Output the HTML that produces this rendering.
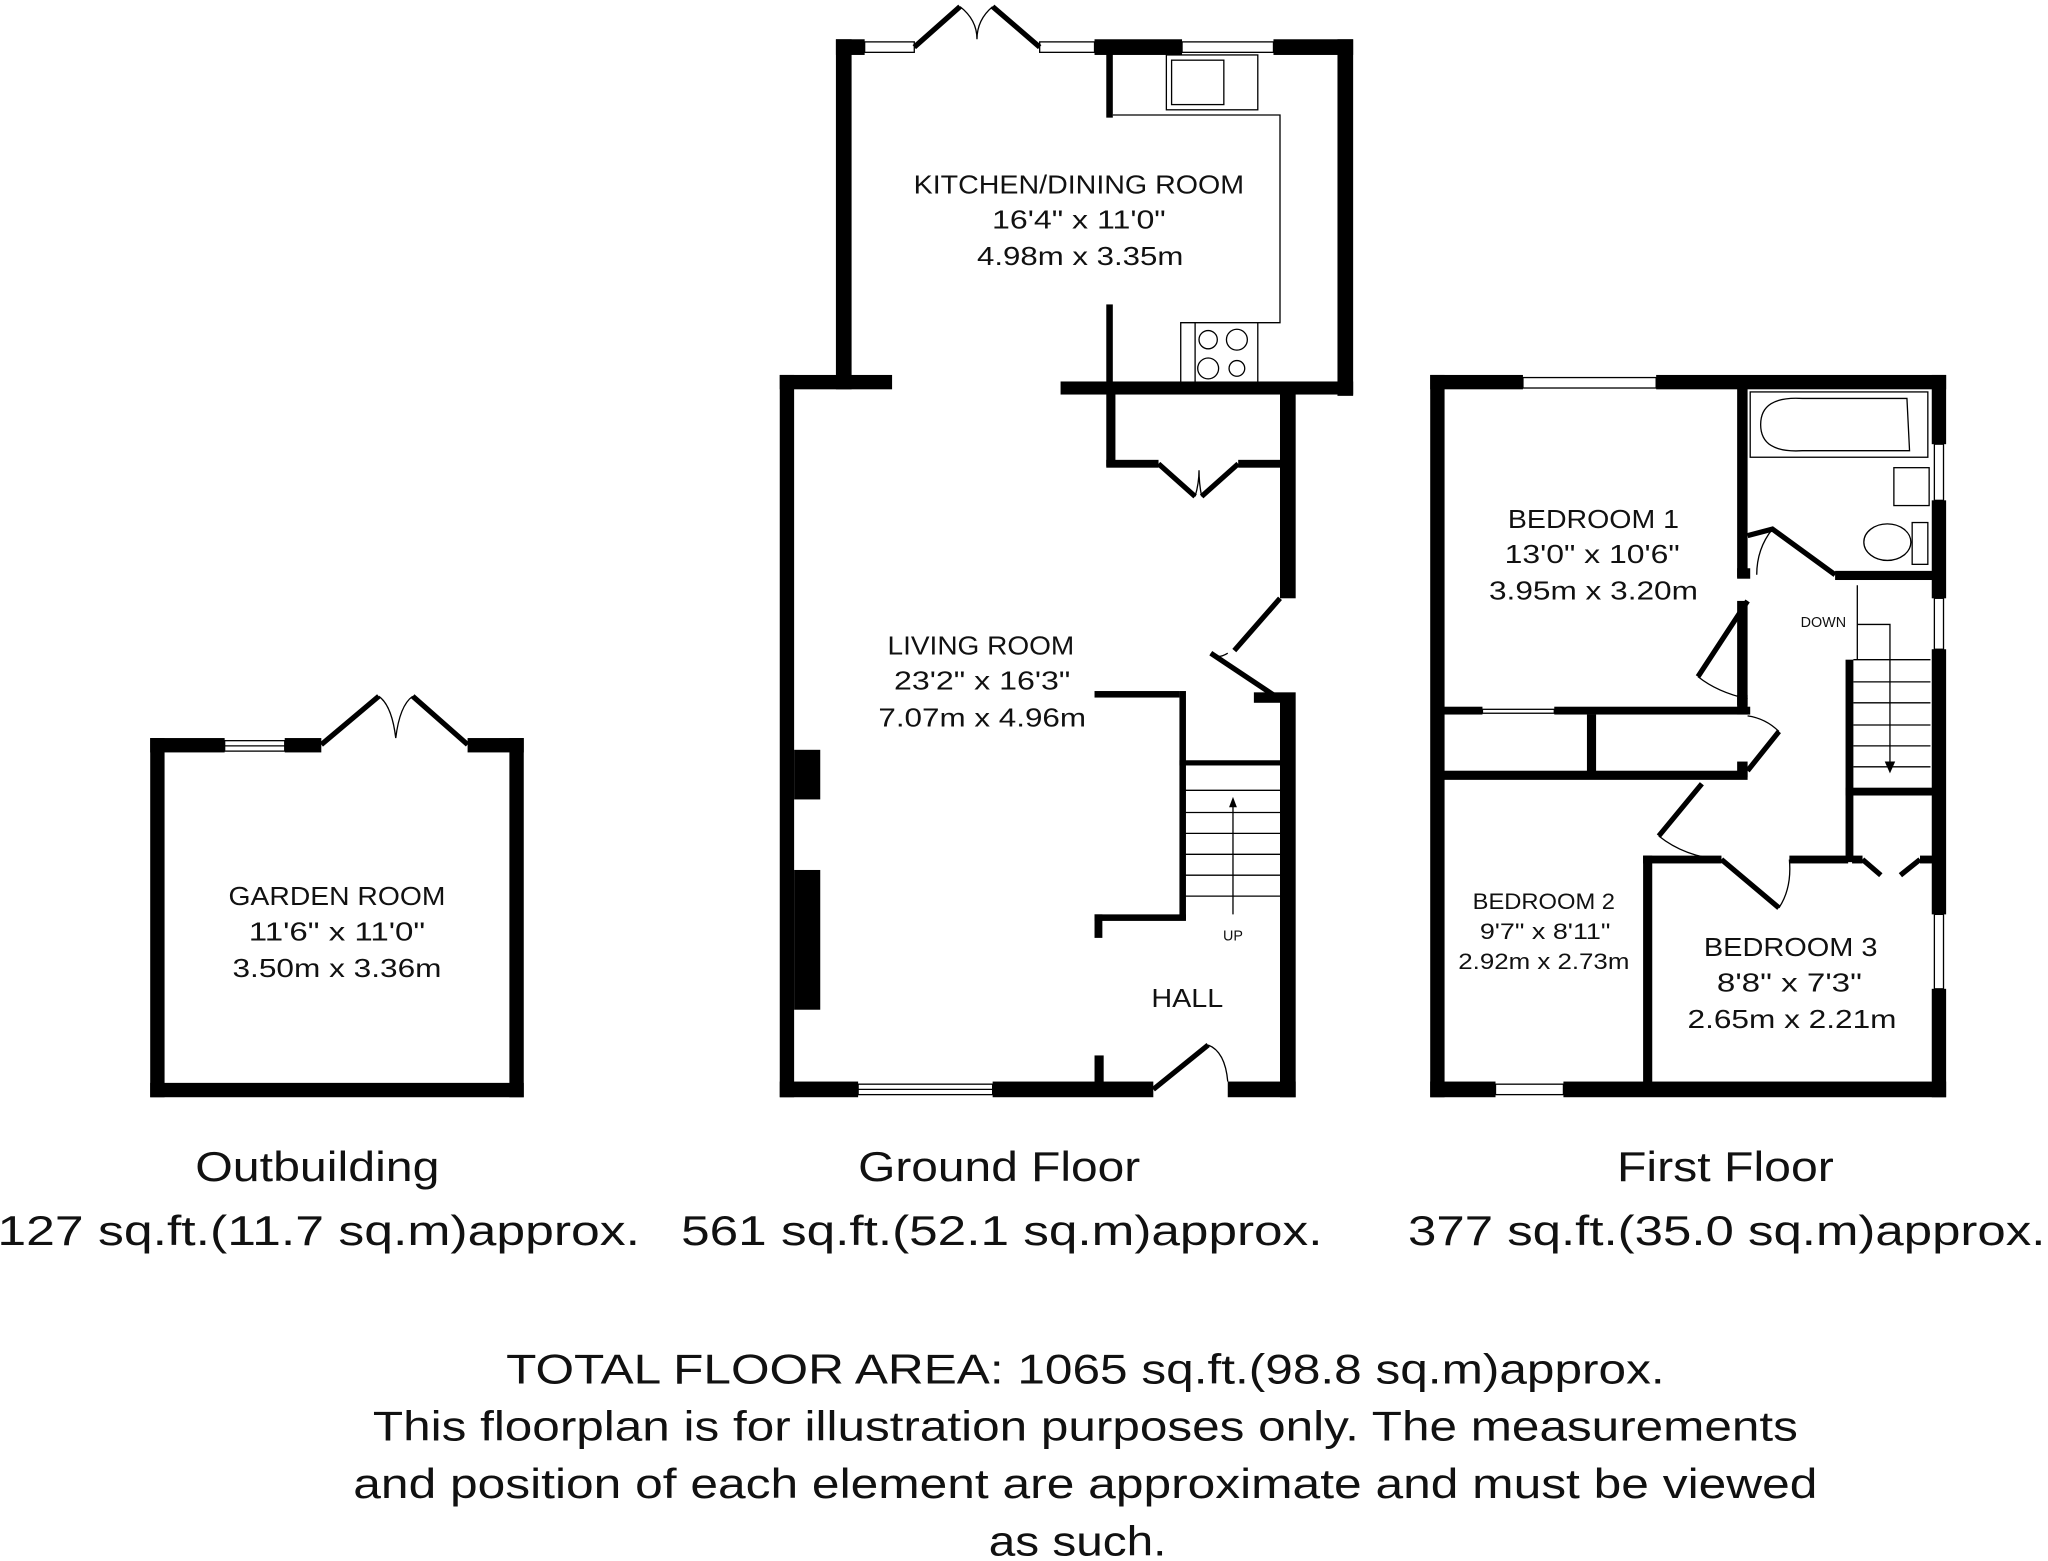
<!DOCTYPE html>
<html><head><meta charset="utf-8"><style>
html,body{margin:0;padding:0;background:#fff;}
svg{display:block}
text{font-family:"Liberation Sans",sans-serif;fill:#111;}
</style></head><body>
<svg width="2048" height="1561" viewBox="0 0 1568 1195" xmlns="http://www.w3.org/2000/svg">
<rect width="1568" height="1195" fill="#fff"/>
<g fill="#000">
<rect x="115" y="565" width="11" height="275"/>
<rect x="390" y="565" width="11" height="275"/>
<rect x="115" y="829" width="286" height="11"/>
<rect x="115" y="565" width="57" height="11"/>
<rect x="218" y="565" width="28" height="11"/>
<rect x="358" y="565" width="43" height="11"/>
<rect x="597" y="287" width="11" height="553"/>
<rect x="597" y="828" width="60" height="12"/>
<rect x="760" y="828" width="123" height="12"/>
<rect x="940" y="828" width="52" height="12"/>
<rect x="597" y="287" width="86" height="11"/>
<rect x="812" y="292" width="224" height="10"/>
<rect x="980" y="297" width="12" height="161"/>
<rect x="980" y="530" width="12" height="310"/>
<rect x="608" y="574" width="20" height="38"/>
<rect x="608" y="666" width="20" height="107"/>
<rect x="640" y="30" width="12" height="268"/>
<rect x="1024" y="30" width="12" height="273"/>
<rect x="640" y="30" width="22" height="12"/>
<rect x="838" y="30" width="67" height="12"/>
<rect x="975" y="30" width="61" height="12"/>
<rect x="847" y="40" width="5" height="50"/>
<rect x="847" y="233" width="5" height="65"/>
<rect x="847" y="298" width="7" height="59"/>
<rect x="847" y="352" width="40" height="6"/>
<rect x="948" y="352" width="32" height="6"/>
<rect x="838" y="529" width="65" height="5"/>
<rect x="903" y="529" width="5" height="175"/>
<rect x="903" y="582" width="77" height="4"/>
<rect x="838" y="700" width="70" height="5"/>
<rect x="838" y="700" width="6" height="18"/>
<rect x="838" y="808" width="7" height="22"/>
<rect x="960" y="530" width="20" height="8"/>
<rect x="1095" y="287" width="11" height="553"/>
<rect x="1095" y="828" width="50" height="12"/>
<rect x="1197" y="828" width="293" height="12"/>
<rect x="1095" y="287" width="71" height="11"/>
<rect x="1268" y="287" width="222" height="11"/>
<rect x="1479" y="287" width="11" height="53"/>
<rect x="1479" y="383" width="11" height="75"/>
<rect x="1479" y="497" width="11" height="203"/>
<rect x="1479" y="757" width="11" height="83"/>
<rect x="1330" y="297" width="8" height="145"/>
<rect x="1330" y="435" width="10" height="8"/>
<rect x="1405" y="437" width="75" height="7"/>
<rect x="1330" y="460" width="8" height="80"/>
<rect x="1105" y="541" width="30" height="6"/>
<rect x="1190" y="541" width="150" height="6"/>
<rect x="1330" y="532" width="8" height="15"/>
<rect x="1215" y="547" width="7" height="44"/>
<rect x="1105" y="590" width="233" height="7"/>
<rect x="1330" y="583" width="8" height="12"/>
<rect x="1413" y="505" width="6" height="155"/>
<rect x="1413" y="603" width="67" height="6"/>
<rect x="1258" y="655" width="7" height="175"/>
<rect x="1258" y="655" width="60" height="6"/>
<rect x="1370" y="655" width="45" height="6"/>
<rect x="1418" y="655" width="8" height="6"/>
<rect x="1470" y="655" width="10" height="6"/>
</g>
<g fill="none" stroke="#000" stroke-width="4">
<path d="M246 570 L290 533 M358 570 L316 533"/>
<path d="M700 36 L735 5 M796 36 L760 5"/>
<path d="M887 355 L915 380 M948 355 L920 380"/>
<path d="M980 458 L945 498 M927 500 L975 532"/>
<path d="M883 834 L925 800"/>
<path d="M1338 460 L1300 518 M1338 410 L1357 405 L1405 440"/>
<path d="M1338 590 L1362 560 M1270 640 L1303 600"/>
<path d="M1318 658 L1362 695 M1426 658 L1440 670 M1470 658 L1455 670"/>
</g>
<g fill="none" stroke="#000" stroke-width="1">
<path d="M290 533 Q300 540 303 565 M316 533 Q306 540 303 565"/>
<path d="M735 5 Q748 15 748 30 M760 5 Q748 15 748 30"/>
<path d="M915 380 Q918 370 918 360 M920 380 Q918 370 918 360"/>
<path d="M927 500 Q932 505 940 500 M925 800 Q938 805 940 828"/>
<path d="M1362 695 Q1372 680 1370 658 M1300 518 Q1315 530 1338 535 M1357 405 Q1345 420 1345 440"/>
<path d="M1362 560 Q1352 550 1338 548 M1270 640 Q1290 656 1318 658"/>
<rect x="172" y="567" width="46" height="8"/><line x1="172" y1="571" x2="218" y2="571"/>
<rect x="657" y="830" width="103" height="8"/><line x1="657" y1="834" x2="760" y2="834"/>
<rect x="662" y="32" width="38" height="8"/><rect x="796" y="32" width="42" height="8"/>
<rect x="905" y="32" width="70" height="8"/>
<rect x="1166" y="289" width="102" height="8"/><rect x="1145" y="830" width="52" height="8"/>
<rect x="1481" y="340" width="7" height="43"/><rect x="1481" y="458" width="7" height="39"/><rect x="1481" y="700" width="7" height="57"/>
<rect x="1135" y="543" width="55" height="3"/>
<path d="M852 88 L980 88 L980 247 L904 247 L904 292 M915 247 L915 292 M963 247 L963 292"/>
<rect x="893" y="42" width="70" height="42"/><rect x="897" y="46" width="40" height="34"/>
<circle cx="925" cy="260" r="7"/><circle cx="947" cy="260" r="8"/><circle cx="925" cy="282" r="8"/><circle cx="947" cy="282" r="6"/>
<path d="M907 605 H980 M907 622 H980 M907 638 H980 M907 654 H980 M907 670 H980 M907 686 H980"/>
<path d="M944 700 V612"/>
<path d="M1419 505 H1478 M1419 522 H1478 M1419 538 H1478 M1419 555 H1478 M1419 571 H1478 M1419 587 H1478 M1422 462 V505 M1422 448 V462"/>
<path d="M1422 478 H1447 V585"/>
<rect x="1340" y="300" width="136" height="50"/>
<path d="M1348 325 Q1348 303 1380 305 L1460 305 L1462 345 L1380 345 Q1348 347 1348 325Z"/>
<rect x="1450" y="358" width="27" height="29"/>
<ellipse cx="1445" cy="415" rx="18" ry="14"/><rect x="1464" y="400" width="12" height="32"/>
</g>
<g fill="#000"><path d="M944 610 l-3 8 h6z"/><path d="M1447 592 l-4 -9 h8z"/></g>
<g text-anchor="middle" font-size="20" lengthAdjust="spacingAndGlyphs">
<text x="826" y="148" textLength="253" lengthAdjust="spacingAndGlyphs">KITCHEN/DINING ROOM</text>
<text x="826" y="175" textLength="133" lengthAdjust="spacingAndGlyphs">16'4" x 11'0"</text>
<text x="827" y="203" textLength="158" lengthAdjust="spacingAndGlyphs">4.98m x 3.35m</text>
<text x="751" y="501" textLength="143" lengthAdjust="spacingAndGlyphs">LIVING ROOM</text>
<text x="752" y="528" textLength="135" lengthAdjust="spacingAndGlyphs">23'2" x 16'3"</text>
<text x="752" y="556" textLength="159" lengthAdjust="spacingAndGlyphs">7.07m x 4.96m</text>
<text x="909" y="771" textLength="55" lengthAdjust="spacingAndGlyphs">HALL</text>
<text x="258" y="693" textLength="166" lengthAdjust="spacingAndGlyphs">GARDEN ROOM</text>
<text x="258" y="720" textLength="135" lengthAdjust="spacingAndGlyphs">11'6" x 11'0"</text>
<text x="258" y="748" textLength="160" lengthAdjust="spacingAndGlyphs">3.50m x 3.36m</text>
<text x="1220" y="404" textLength="131" lengthAdjust="spacingAndGlyphs">BEDROOM 1</text>
<text x="1219" y="431" textLength="134" lengthAdjust="spacingAndGlyphs">13'0" x 10'6"</text>
<text x="1220" y="459" textLength="160" lengthAdjust="spacingAndGlyphs">3.95m x 3.20m</text>
<text x="1371" y="732" textLength="133" lengthAdjust="spacingAndGlyphs">BEDROOM 3</text>
<text x="1370" y="759" textLength="111" lengthAdjust="spacingAndGlyphs">8'8" x 7'3"</text>
<text x="1372" y="787" textLength="160" lengthAdjust="spacingAndGlyphs">2.65m x 2.21m</text>
</g>
<g text-anchor="middle" font-size="17">
<text x="1182" y="696" textLength="109" lengthAdjust="spacingAndGlyphs">BEDROOM 2</text>
<text x="1183" y="719" textLength="100" lengthAdjust="spacingAndGlyphs">9'7" x 8'11"</text>
<text x="1182" y="742" textLength="131" lengthAdjust="spacingAndGlyphs">2.92m x 2.73m</text>
</g>
<text x="944" y="720" font-size="11" text-anchor="middle">UP</text>
<text x="1396" y="480" font-size="11" text-anchor="middle">DOWN</text>
<g text-anchor="middle" font-size="32">
<text x="243" y="904" textLength="187" lengthAdjust="spacingAndGlyphs">Outbuilding</text>
<text x="244" y="953" textLength="492" lengthAdjust="spacingAndGlyphs">127 sq.ft.(11.7 sq.m)approx.</text>
<text x="765" y="904" textLength="216" lengthAdjust="spacingAndGlyphs">Ground Floor</text>
<text x="767" y="953" textLength="491" lengthAdjust="spacingAndGlyphs">561 sq.ft.(52.1 sq.m)approx.</text>
<text x="1321" y="904" textLength="166" lengthAdjust="spacingAndGlyphs">First Floor</text>
<text x="1322" y="953" textLength="488" lengthAdjust="spacingAndGlyphs">377 sq.ft.(35.0 sq.m)approx.</text>
<text x="831" y="1059" textLength="887" lengthAdjust="spacingAndGlyphs">TOTAL FLOOR AREA: 1065 sq.ft.(98.8 sq.m)approx.</text>
<text x="831" y="1103" textLength="1091" lengthAdjust="spacingAndGlyphs">This floorplan is for illustration purposes only. The measurements</text>
<text x="831" y="1147" textLength="1121" lengthAdjust="spacingAndGlyphs">and position of each element are approximate and must be viewed</text>
<text x="825" y="1191" textLength="136" lengthAdjust="spacingAndGlyphs">as such.</text>
</g>
</svg>
</body></html>
